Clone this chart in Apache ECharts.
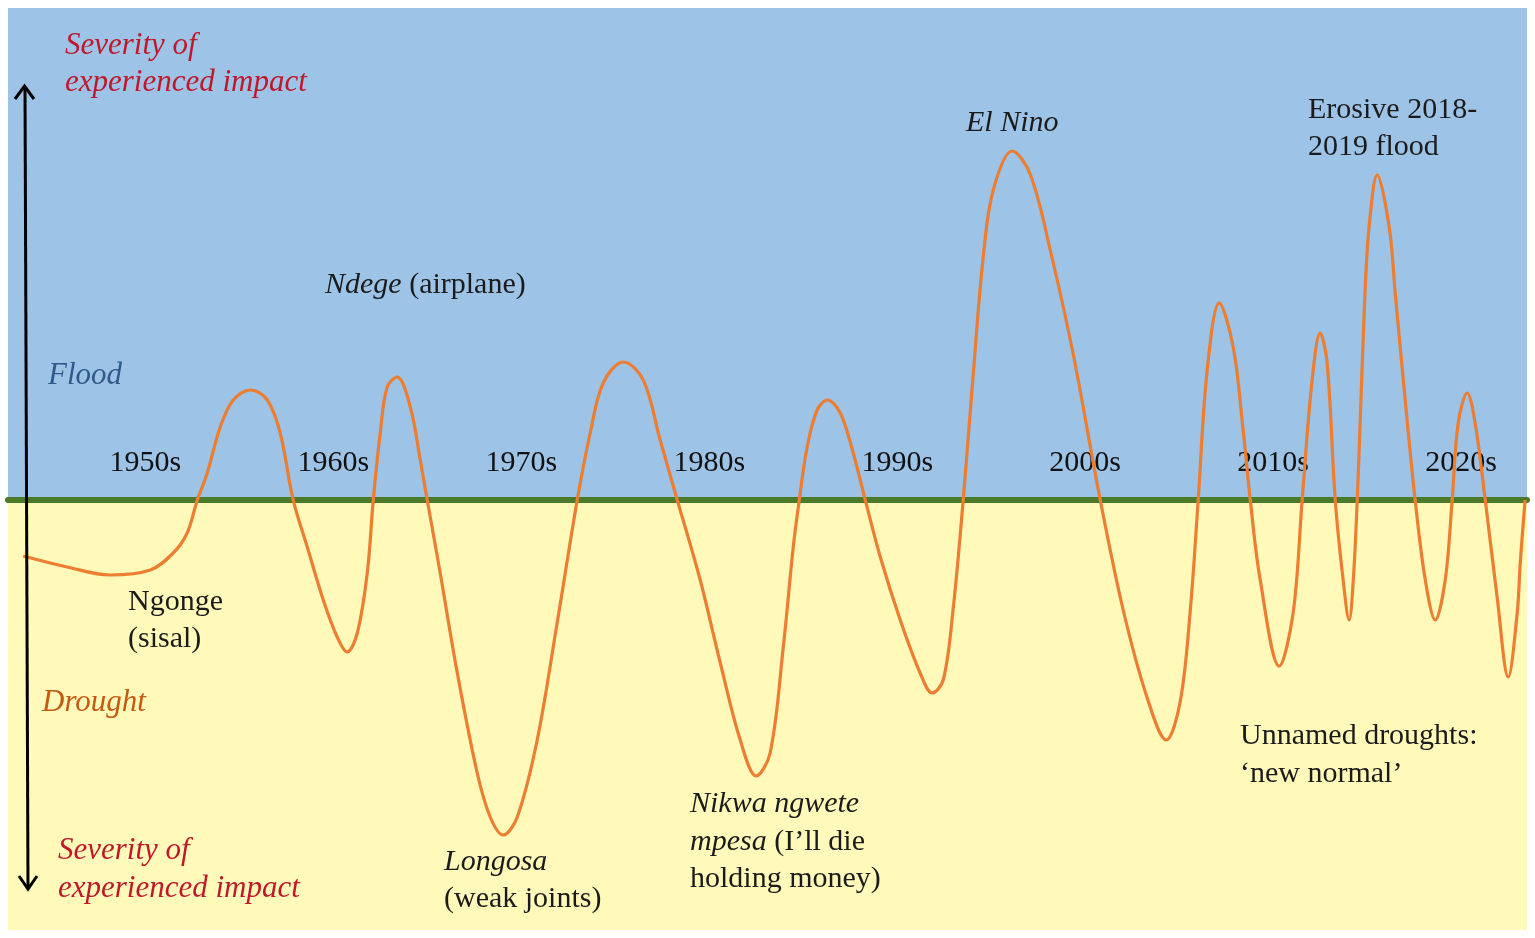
<!DOCTYPE html>
<html>
<head>
<meta charset="utf-8">
<script src="https://cdn.jsdelivr.net/npm/echarts@6/dist/echarts.min.js"></script>
<style>
  html, body { margin: 0; padding: 0; background: #ffffff; }
  #chart { width: 1535px; height: 938px; }
</style>
</head>
<body>
<div id="chart"></div>
<script>
// Decades shown along the zero line
const decades = [1950, 1960, 1970, 1980, 1990, 2000, 2010, 2020];
const decadeLabels = ['1950s', '1960s', '1970s', '1980s', '1990s', '2000s', '2010s', '2020s'];

// Schematic severity curve (positive = flood, negative = drought)
const years = [
  1943.51, 1945.85, 1948.14, 1950.27, 1951.49, 1952.23, 1952.77, 1953.30, 1953.99, 1954.68,
  1955.59, 1956.49, 1957.18, 1957.87, 1958.62, 1959.47, 1960.21, 1960.74, 1961.28, 1961.81,
  1962.13, 1962.50, 1962.87, 1963.40, 1964.10, 1964.63, 1965.00, 1965.69, 1966.60, 1967.66,
  1968.35, 1969.04, 1969.79, 1970.85, 1971.91, 1972.98, 1973.67, 1974.36, 1975.43, 1976.49,
  1977.39, 1978.30, 1979.52, 1980.59, 1981.65, 1982.50, 1983.24, 1983.94, 1984.47, 1984.79,
  1985.21, 1985.74, 1986.28, 1986.97, 1987.66, 1988.30, 1989.10, 1990.16, 1991.22, 1991.86,
  1992.45, 1992.98, 1993.51, 1994.04, 1994.57, 1995.11, 1996.12, 1997.07, 1998.14, 1999.36,
  2000.80, 2002.02, 2003.30, 2004.31, 2005.05, 2005.59, 2006.01, 2006.49, 2007.13, 2007.87,
  2008.40, 2008.78, 2009.31, 2010.32, 2011.06, 2011.54, 2012.07, 2012.50, 2012.87, 2013.30,
  2013.72, 2014.04, 2014.26, 2014.47, 2014.63, 2014.89, 2015.11, 2015.53, 2016.17, 2016.49,
  2017.02, 2017.55, 2018.09, 2018.62, 2019.15, 2019.52, 2019.84, 2020.32, 2020.74, 2021.28,
  2021.91, 2022.50, 2022.98, 2023.14, 2023.40
];
const severity = [
  -0.56, -0.67, -0.75, -0.70, -0.53, -0.33, 0.00, 0.27, 0.73, 1.00,
  1.10, 1.00, 0.67, 0.00, -0.47, -1.00, -1.37, -1.52, -1.33, -0.73,
  0.00, 0.67, 1.13, 1.23, 0.93, 0.40, 0.00, -0.73, -1.73, -2.73,
  -3.17, -3.35, -3.17, -2.40, -1.23, 0.00, 0.67, 1.17, 1.38, 1.20,
  0.60, 0.00, -0.80, -1.63, -2.40, -2.76, -2.53, -1.47, -0.47, 0.00,
  0.53, 0.90, 1.00, 0.87, 0.47, 0.00, -0.57, -1.20, -1.73, -1.93,
  -1.80, -1.08, 0.00, 1.25, 2.42, 3.10, 3.49, 3.26, 2.50, 1.46,
  0.00, -1.10, -1.98, -2.40, -2.02, -1.10, 0.00, 1.30, 1.97, 1.53,
  0.70, 0.00, -0.80, -1.66, -1.13, 0.00, 1.20, 1.67, 1.37, 0.00,
  -0.80, -1.20, -0.80, 0.00, 0.80, 2.10, 2.75, 3.25, 2.73, 2.07,
  1.00, 0.00, -0.80, -1.20, -0.80, 0.00, 0.77, 1.07, 0.77, 0.00,
  -0.97, -1.77, -1.13, -0.63, 0.00
];

const yMin = -4.3, yMax = 4.92;
const xMin = 1942.7, xMax = 2023.5;
const decadeLabelLevel = 0.37;

const SERIF = '"Liberation Serif", "DejaVu Serif", serif';
const DARK = '#1b1b1b';
const RED = '#C0182A';

function txt(x, y, text, opts) {
  opts = opts || {};
  const size = opts.size || 30;
  const fill = opts.fill || DARK;
  return {
    type: 'text',
    left: x,
    top: y - 13,
    z: 10,
    style: {
      text: text,
      fill: fill,
      font: (opts.italic ? 'italic ' : '') + size + 'px ' + SERIF,
      rich: {
        i: { fontStyle: 'italic', fontFamily: SERIF, fontSize: size, fill: fill }
      }
    }
  };
}

const chart = echarts.init(document.getElementById('chart'));
chart.setOption({
  animation: false,
  backgroundColor: '#ffffff',
  grid: { left: 8, right: 8, top: 8, bottom: 8, containLabel: false },
  xAxis: {
    type: 'value',
    min: xMin,
    max: xMax,
    z: 2,
    axisLine: { show: true, onZero: true, lineStyle: { color: '#4C7A2B', width: 6 } },
    axisTick: { show: false },
    splitLine: { show: false },
    axisLabel: { show: false }
  },
  yAxis: {
    type: 'value',
    min: yMin,
    max: yMax,
    show: false,
    splitLine: { show: false }
  },
  series: [
    {
      type: 'scatter',
      z: 3,
      silent: true,
      symbolSize: 0,
      itemStyle: { opacity: 1 },
      data: decades.map((d, i) => ({ value: [d, decadeLabelLevel], name: decadeLabels[i] })),
      label: {
        show: true,
        position: 'inside',
        formatter: '{b}',
        fontFamily: SERIF,
        fontSize: 30,
        color: '#111111',
        opacity: 1
      }
    },
    {
      type: 'line',
      z: 4,
      data: years.map((y, i) => [y, severity[i]]),
      smooth: 0.35,
      symbol: 'none',
      clip: false,
      lineStyle: { color: '#ED7D31', width: 3.2 },
      markArea: {
        silent: true,
        z: 1,
        data: [
          [{ yAxis: 0, itemStyle: { color: '#9DC3E6' } }, { yAxis: yMax }],
          [{ yAxis: yMin, itemStyle: { color: '#FFF9BA' } }, { yAxis: 0 }]
        ]
      }
    }
  ],
  graphic: [
    // double-headed arrow on the left
    { type: 'line', z: 10, shape: { x1: 25, y1: 87, x2: 28, y2: 888 }, style: { stroke: '#000', lineWidth: 3 } },
    { type: 'polyline', z: 10, shape: { points: [[15, 99], [24.5, 86], [34, 99]] }, style: { stroke: '#000', lineWidth: 3, fill: null } },
    { type: 'polyline', z: 10, shape: { points: [[19, 876], [28, 889], [37, 876]] }, style: { stroke: '#000', lineWidth: 3, fill: null } },

    txt(65, 43, 'Severity of', { italic: true, fill: RED, size: 31 }),
    txt(65, 80, 'experienced impact', { italic: true, fill: RED, size: 31 }),
    txt(48, 373, 'Flood', { italic: true, fill: '#2F5A8C', size: 31 }),
    txt(325, 283, '{i|Ndege} (airplane)'),
    txt(966, 121, 'El Nino', { italic: true }),
    txt(1308, 108, 'Erosive 2018-'),
    txt(1308, 145, '2019 flood'),
    txt(128, 600, 'Ngonge'),
    txt(128, 637, '(sisal)'),
    txt(42, 700, 'Drought', { italic: true, fill: '#C55A11', size: 31 }),
    txt(58, 848, 'Severity of', { italic: true, fill: RED, size: 31 }),
    txt(58, 886, 'experienced impact', { italic: true, fill: RED, size: 31 }),
    txt(444, 860, 'Longosa', { italic: true }),
    txt(444, 897, '(weak joints)'),
    txt(690, 802, 'Nikwa ngwete', { italic: true }),
    txt(690, 840, '{i|mpesa} (I\u2019ll die'),
    txt(690, 877, 'holding money)'),
    txt(1240, 734, 'Unnamed droughts:'),
    txt(1240, 772, '\u2018new normal\u2019')
  ]
});
</script>
</body>
</html>
